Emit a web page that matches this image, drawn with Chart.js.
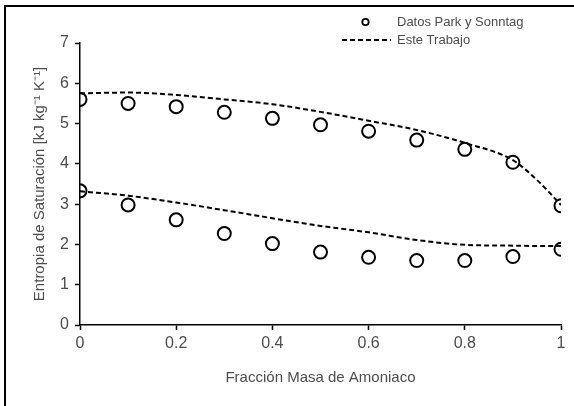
<!DOCTYPE html>
<html>
<head>
<meta charset="utf-8">
<script src="https://cdn.jsdelivr.net/npm/chart.js@4/dist/chart.umd.min.js"></script>
<style>
  html, body { margin: 0; padding: 0; background: #fff; }
  #wrap { position: relative; width: 574px; height: 406px; }
</style>
</head>
<body>
<div id="wrap"><canvas id="c" width="574" height="406"></canvas></div>
<script>
// ---- data ----
const dataX = [0, 0.1, 0.2, 0.3, 0.4, 0.5, 0.6, 0.7, 0.8, 0.9, 1.0];
const parkUpper = [5.60, 5.50, 5.42, 5.28, 5.13, 4.97, 4.81, 4.59, 4.36, 4.04, 2.96];
const parkLower = [3.33, 2.98, 2.61, 2.27, 2.02, 1.81, 1.68, 1.60, 1.60, 1.70, 1.88];

const modelX = [0, 0.1, 0.2, 0.3, 0.4, 0.5, 0.6, 0.7, 0.8, 0.9, 0.95, 1.0];
const modelUpper = [5.75, 5.77, 5.71, 5.60, 5.48, 5.29, 5.07, 4.84, 4.52, 4.09, 3.60, 2.98];
const modelLower = [3.32, 3.21, 3.04, 2.85, 2.65, 2.46, 2.30, 2.11, 1.99, 1.97, 1.96, 1.96];

const xTicks = [0, 0.2, 0.4, 0.6, 0.8, 1];
const yTicks = [0, 1, 2, 3, 4, 5, 6, 7];

const legendLabels = ['Datos Park y Sonntag', 'Este Trabajo'];
const xTitle = 'Fracción Masa de Amoniaco';
const yTitle = 'Entropia de Saturación [kJ kg\u207B\u00B9 K\u207B\u00B9]';

const pts = (xs, ys) => xs.map((x, i) => ({ x: x, y: ys[i] }));

const FONT = '"Liberation Sans", Arial, sans-serif';
const TEXT = '#4d4d4d';

const circleStyle = {
  type: 'scatter',
  showLine: false,
  pointStyle: 'circle',
  pointRadius: 6.5,
  pointBorderWidth: 2,
  pointBorderColor: '#000',
  pointBackgroundColor: 'rgba(255,255,255,0)',
  pointHoverRadius: 6.5
};
const lineStyle = {
  type: 'line',
  borderColor: '#000',
  borderWidth: 2,
  borderDash: [5, 3],
  pointRadius: 0,
  cubicInterpolationMode: 'monotone',
  fill: false
};

const framePlugin = {
  id: 'frame',
  afterDraw(chart) {
    const ctx = chart.ctx;
    ctx.save();
    ctx.strokeStyle = '#000';
    ctx.lineWidth = 2;
    ctx.beginPath();
    ctx.moveTo(5, 406);
    ctx.lineTo(5, 6);
    ctx.lineTo(574, 6);
    ctx.stroke();
    // legend
    ctx.font = '13px ' + FONT;
    ctx.fillStyle = TEXT;
    ctx.textBaseline = 'middle';
    ctx.textAlign = 'left';
    ctx.beginPath();
    ctx.lineWidth = 1.8;
    ctx.arc(365.5, 22, 3.2, 0, Math.PI * 2);
    ctx.stroke();
    ctx.fillText(legendLabels[0], 397, 22);
    ctx.beginPath();
    ctx.lineWidth = 2;
    ctx.setLineDash([5, 3]);
    ctx.moveTo(342, 40);
    ctx.lineTo(391, 40);
    ctx.stroke();
    ctx.setLineDash([]);
    ctx.fillText(legendLabels[1], 397, 40);
    ctx.restore();
  }
};

new Chart(document.getElementById('c'), {
  data: {
    datasets: [
      Object.assign({ label: legendLabels[0], data: pts(dataX, parkUpper) }, circleStyle),
      Object.assign({ label: legendLabels[0] + ' (2)', data: pts(dataX, parkLower) }, circleStyle),
      Object.assign({ label: legendLabels[1], data: pts(modelX, modelUpper) }, lineStyle),
      Object.assign({ label: legendLabels[1] + ' (2)', data: pts(modelX, modelLower) }, lineStyle)
    ]
  },
  options: {
    responsive: false,
    animation: false,
    devicePixelRatio: 1,
    layout: { padding: { top: 43, right: 13, bottom: 0, left: 0 } },
    plugins: { legend: { display: false }, tooltip: { enabled: false } },
    scales: {
      x: {
        type: 'linear',
        min: 0, max: 1,
        afterBuildTicks(s) { s.ticks = xTicks.map(v => ({ value: v })); },
        afterFit(s) { s.height = 81; },
        ticks: {
          color: TEXT, font: { family: FONT, size: 16 }, padding: 4,
          callback: v => String(v)
        },
        grid: { display: true, drawOnChartArea: false, tickLength: 5, tickColor: '#000', tickWidth: 1.5 },
        border: { color: '#000', width: 1.5 },
        title: { display: true, text: xTitle, color: TEXT, font: { family: FONT, size: 15 }, padding: { top: 0, bottom: 19 } }
      },
      y: {
        type: 'linear',
        min: 0, max: 7,
        afterBuildTicks(s) { s.ticks = yTicks.map(v => ({ value: v })); },
        afterFit(s) { s.width = 80; },
        ticks: {
          color: TEXT, font: { family: FONT, size: 16 }, padding: 6,
          callback: v => String(v)
        },
        grid: { display: true, drawOnChartArea: false, tickLength: 5, tickColor: '#000', tickWidth: 1.5 },
        border: { color: '#000', width: 1.5 },
        title: { display: true, text: yTitle, color: TEXT, font: { family: FONT, size: 15 }, padding: { top: 31, bottom: 0 } }
      }
    }
  },
  plugins: [framePlugin]
});
</script>
</body>
</html>
